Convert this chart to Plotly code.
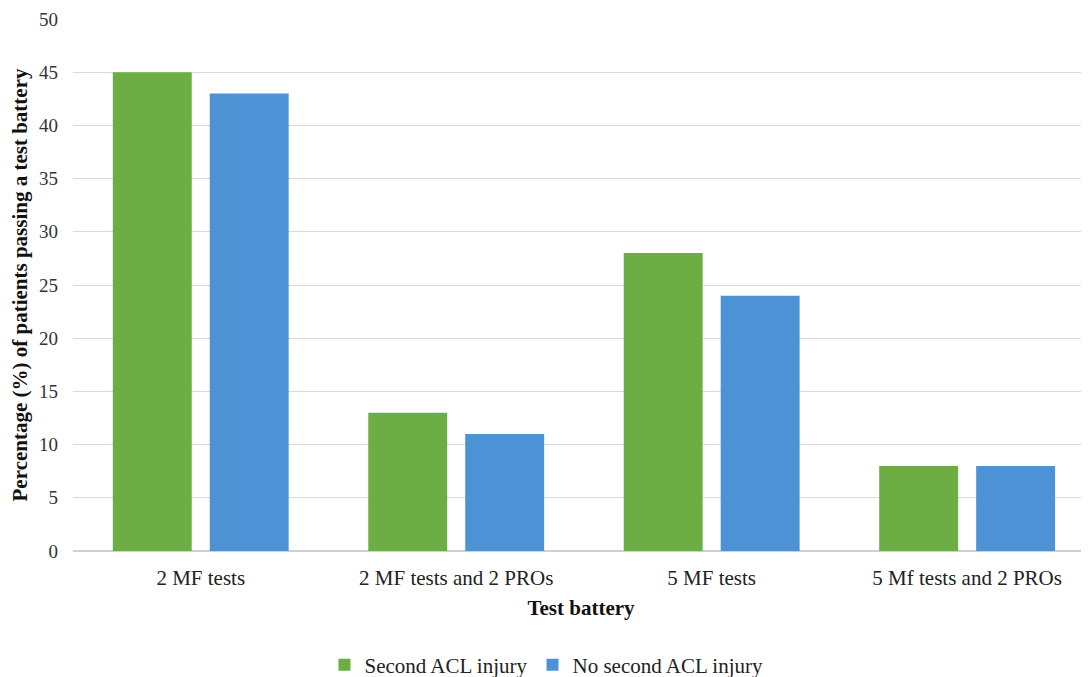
import plotly.graph_objects as go

categories = ["2 MF tests", "2 MF tests and 2 PROs", "5 MF tests", "5 Mf tests and 2 PROs"]
second_acl = [45, 13, 28, 8]
no_second_acl = [43, 11, 24, 8]
y_ticks = [0, 5, 10, 15, 20, 25, 30, 35, 40, 45, 50]

font_family = "Liberation Serif"

fig = go.Figure()
fig.add_trace(go.Bar(
    x=categories, y=second_acl, name="Second ACL injury",
    marker=dict(color="#6cad44", line=dict(width=0)),
))
fig.add_trace(go.Bar(
    x=categories, y=no_second_acl, name="No second ACL injury",
    marker=dict(color="#4e92d6", line=dict(width=0)),
))

W, H = 1081, 669
fig.update_layout(
    width=W, height=H,
    margin=dict(l=65, r=0, t=11, b=126, autoexpand=False),
    paper_bgcolor="white", plot_bgcolor="white",
    barmode="group", bargap=0.241, bargroupgap=0.186,
    font=dict(family=font_family, size=21, color="#222222"),
    showlegend=True,
    legend=dict(orientation="h", x=0.466, xanchor="center",
                yref="container", y=12/H, yanchor="middle",
                font=dict(family=font_family, size=21, color="#222222"),
                itemwidth=30, tracegroupgap=0),
    hovermode=False,
)
fig.update_xaxes(
    title=dict(text="<b>Test battery</b>", font=dict(family=font_family, size=21, color="#111111"), standoff=11),
    automargin=False, range=[-0.5, 3.477],
    showgrid=False, showline=True, linecolor="#d0d0d0", linewidth=1,
    ticks="", ticklabelstandoff=8, tickfont=dict(family=font_family, size=21, color="#222222"),
)
fig.update_yaxes(
    title=dict(text="<b>Percentage (%) of patients passing a test battery</b>",
               font=dict(family=font_family, size=21, color="#111111"), standoff=10),
    automargin=False,
    range=[0, 50], tickvals=y_ticks, showgrid=True, gridcolor="#d9d9d9", gridwidth=1,
    zeroline=True, zerolinecolor="#d0d0d0", showline=False, ticks="",
    ticklabelstandoff=14,
    tickfont=dict(family=font_family, size=19, color="#333333"),
)

fig.write_html("out.html")
